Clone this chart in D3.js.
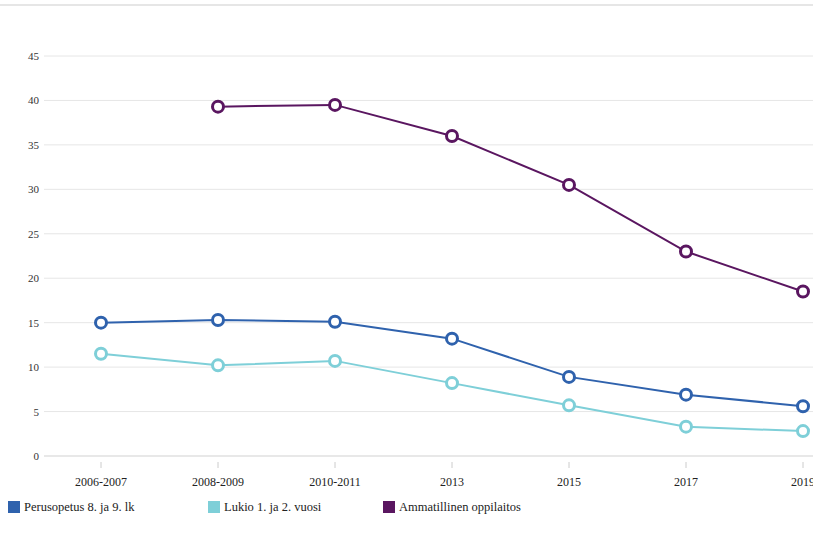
<!DOCTYPE html>
<html>
<head>
<meta charset="utf-8">
<script src="https://cdn.jsdelivr.net/npm/d3@7"></script>
<style>
  html, body { margin: 0; padding: 0; background: #fff; overflow: hidden; }
  svg { display: block; }
  svg text { font-family: "Liberation Serif", "Times New Roman", "DejaVu Serif", serif !important; }
</style>
</head>
<body>
<svg id="chart" width="813" height="550"></svg>
<script>
const categories = ["2006-2007", "2008-2009", "2010-2011", "2013", "2015", "2017", "2019"];
const perusopetus = [15.0, 15.3, 15.1, 13.2, 8.9, 6.9, 5.6];
const lukio = [11.5, 10.2, 10.7, 8.2, 5.7, 3.3, 2.8];
const ammatillinen = [null, 39.3, 39.5, 36.0, 30.5, 23.0, 18.5];
const yTicks = [0, 5, 10, 15, 20, 25, 30, 35, 40, 45];
const seriesNames = ["Perusopetus 8. ja 9. lk", "Lukio 1. ja 2. vuosi", "Ammatillinen oppilaitos"];
const seriesColors = ["#2f62ad", "#7ecfd8", "#5a1660"];

const series = [perusopetus, lukio, ammatillinen].map((vals, i) => ({
  name: seriesNames[i], color: seriesColors[i],
  points: vals.map((v, j) => ({ cat: categories[j], v }))
}));

const svg = d3.select("#chart");

// top border line
svg.append("line").attr("x1", 0).attr("x2", 813).attr("y1", 5).attr("y2", 5)
  .attr("stroke", "#e6e6e6").attr("stroke-width", 2);

const x = d3.scaleBand().domain(categories).range([42.5, 861.5]);
const y = d3.scaleLinear().domain([0, 45]).range([456, 56]);
const cx = c => x(c) + x.bandwidth() / 2;

// y axis labels
const yAxis = d3.axisLeft(y).tickValues(yTicks).tickSize(0).tickPadding(5);
const gy = svg.append("g").attr("transform", "translate(44,0)").call(yAxis);
gy.attr("font-family", null);
gy.select(".domain").remove();
gy.selectAll("text").attr("font-size", 11).attr("fill", "#333");
// gridlines
svg.append("g").selectAll("line").data(yTicks.filter(t => t !== 0)).join("line")
  .attr("x1", 44).attr("x2", 813)
  .attr("y1", d => y(d)).attr("y2", d => y(d))
  .attr("stroke", "#e6e6e6").attr("stroke-width", 1);

// x axis
const xAxis = d3.axisBottom(x).tickSize(6).tickPadding(9);
const gx = svg.append("g").attr("transform", "translate(0,462)").call(xAxis);
gx.attr("font-family", null);
gx.select(".domain").remove();
gx.selectAll(".tick line").attr("stroke", "#ccc");
gx.selectAll("text").attr("font-size", 12).attr("fill", "#222");
svg.append("line").attr("x1", 44).attr("x2", 813).attr("y1", y(0)).attr("y2", y(0))
  .attr("stroke", "#e0e0e0").attr("stroke-width", 1.5);

// lines
const line = d3.line().defined(d => d.v != null).x(d => cx(d.cat)).y(d => y(d.v));
const gs = svg.append("g").selectAll("g").data(series).join("g");
gs.append("path").attr("d", d => line(d.points)).attr("fill", "none")
  .attr("stroke", d => d.color).attr("stroke-width", 2);
gs.each(function(s) {
  d3.select(this).selectAll("circle").data(s.points.filter(p => p.v != null)).join("circle")
    .attr("cx", p => cx(p.cat)).attr("cy", p => y(p.v)).attr("r", 5.5)
    .attr("fill", "#fff").attr("stroke", s.color).attr("stroke-width", 3);
});

// legend
const legendX = [8, 208, 383];
const lg = svg.append("g").selectAll("g").data(series).join("g")
  .attr("transform", (d, i) => `translate(${legendX[i]},501)`);
lg.append("rect").attr("width", 12).attr("height", 12).attr("fill", d => d.color);
lg.append("text").attr("x", 16).attr("y", 10).attr("font-size", 12.5).attr("fill", "#222")
  .text(d => d.name);
</script>
</body>
</html>
